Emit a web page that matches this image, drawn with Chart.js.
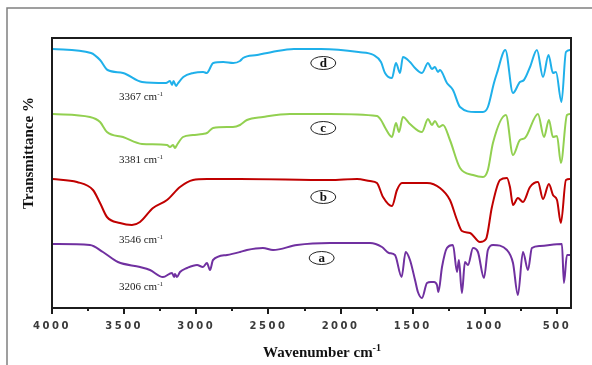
<!DOCTYPE html>
<html>
<head>
<meta charset="utf-8">
<script src="https://cdn.jsdelivr.net/npm/chart.js@4.4.1/dist/chart.umd.min.js"></script>
<style>
  html, body { margin: 0; padding: 0; background: #fff; }
  #wrap { width: 592px; height: 365px; }
</style>
</head>
<body>
<div id="wrap"><canvas id="ftir"></canvas></div>
<script>
// FTIR spectra, wavenumber (cm-1) vs transmittance (offset, arbitrary units)
// (d) top spectrum
const waveD = [3995,3730,3667,3615,3508,3376,3210,3182,3168,3158,3140,3130,3090,3021,2952,2928,2882,2813,2744,2697,2676,2579,2475,2323,2136,1876,1771,1720,1692,1644,1616,1588,1568,1519,1484,1436,1394,1367,1346,1325,1311,1263,1221,1172,1065,1013,979,937,916,858,805,757,729,687,639,597,559,528,507,469,438,407];
const transD = [259,255,248,238,235,226,225,227,223,227,222,224,231,235,236,235,245,246,245,247,250,253,256,259,259,256,253,246,235,230,245,235,251,246,240,235,245,239,241,236,238,225,218,201,196,196,201,225,235,258,215,226,228,241,258,231,253,235,236,206,256,258];

// (c)
const waveC = [3995,3737,3667,3619,3508,3376,3203,3182,3161,3148,3134,3092,3023,2954,2926,2884,2787,2746,2697,2649,2538,2351,2073,1748,1720,1690,1644,1616,1595,1568,1519,1436,1394,1367,1346,1318,1290,1242,1172,1082,1013,979,944,854,805,757,722,632,590,556,528,500,473,431,410];
const transC = [194,191,186,176,171,164,163,161,163,160,163,171,173,174,175,180,181,181,183,188,191,194,194,192,188,180,171,185,176,191,184,176,189,183,187,181,183,168,140,133,131,138,165,193,153,168,170,194,171,188,171,172,145,193,194];

// (b)
const waveB = [3995,3827,3716,3667,3619,3529,3446,3390,3300,3203,3113,3023,2926,2697,2073,1886,1796,1748,1706,1644,1609,1575,1401,1311,1242,1193,1159,1103,1034,992,951,895,847,826,805,771,736,687,632,597,556,528,500,473,438,410];
const transB = [129,126,118,105,91,85,83,86,100,108,121,128,129,129,128,129,127,125,111,102,118,125,125,120,108,88,77,75,66,69,101,128,130,121,103,110,106,121,126,109,124,113,108,85,128,129];

// (a) bottom spectrum
const waveA = [3995,3737,3647,3543,3390,3321,3231,3168,3154,3148,3134,3113,3064,2995,2954,2926,2905,2884,2787,2697,2649,2538,2468,2302,2073,1796,1713,1665,1623,1577,1549,1519,1484,1464,1436,1401,1374,1353,1332,1322,1297,1263,1221,1193,1180,1159,1138,1117,1082,1048,1006,979,944,847,805,771,736,701,674,618,466,452,431,410];
const transA = [64,63,56,46,41,38,31,35,31,34,31,36,40,43,41,45,38,48,53,56,58,60,58,63,65,65,61,55,53,31,56,48,28,16,10,25,26,26,23,16,41,60,63,36,48,15,46,43,60,56,30,58,63,58,45,13,56,38,60,62,64,25,53,53];

const tickLabels = [4000,3500,3000,2500,2000,1500,1000,500];
const minorTicks = [3750,3250,2750,2250,1750,1250,750];
const curveNames = ['d','c','b','a'];
const peakLabels = ['3367','3381','3546','3206'];

const toPoints = (xs, ys) => xs.map((x, i) => ({ x: x, y: ys[i] }));

// frame, tick marks, titles and the small labels
const decorPlugin = {
  id: 'decor',
  beforeDraw: (chart) => {
    chart.ctx.letterSpacing = '2.5px';
  },
  beforeDatasetsDraw: (chart) => {
    chart.ctx.letterSpacing = '0px';
  },
  afterDraw: (chart) => {
    const ctx = chart.ctx;
    const area = chart.chartArea;
    const xs = chart.scales.x;
    const ys = chart.scales.y;
    ctx.save();

    // outer grey frame
    ctx.strokeStyle = '#808080';
    ctx.lineWidth = 1.5;
    ctx.beginPath();
    ctx.moveTo(7, 365);
    ctx.lineTo(7, 8);
    ctx.lineTo(592, 8);
    ctx.stroke();

    // plot box
    ctx.strokeStyle = '#1c1c1c';
    ctx.lineWidth = 2;
    ctx.strokeRect(area.left, area.top, area.right - area.left, area.bottom - area.top);

    // tick marks below the axis
    tickLabels.forEach(v => {
      const px = Math.round(xs.getPixelForValue(v));
      ctx.beginPath();
      ctx.moveTo(px, area.bottom);
      ctx.lineTo(px, area.bottom + 6);
      ctx.stroke();
    });
    minorTicks.forEach(v => {
      const px = Math.round(xs.getPixelForValue(v));
      ctx.beginPath();
      ctx.moveTo(px, area.bottom);
      ctx.lineTo(px, area.bottom + 3);
      ctx.stroke();
    });

    // axis titles
    ctx.fillStyle = '#111';
    ctx.font = 'bold 15px "Liberation Serif"';
    ctx.textBaseline = 'middle';
    ctx.textAlign = 'left';
    const t1 = 'Wavenumber cm';
    const w1 = ctx.measureText(t1).width;
    ctx.font = 'bold 10px "Liberation Serif"';
    const w2 = ctx.measureText('-1').width;
    const tx = 322 - (w1 + w2) / 2;
    ctx.font = 'bold 15px "Liberation Serif"';
    ctx.fillText(t1, tx, 353);
    ctx.font = 'bold 10px "Liberation Serif"';
    ctx.fillText('-1', tx + w1, 348);

    ctx.save();
    ctx.translate(29, 153);
    ctx.rotate(-Math.PI / 2);
    ctx.textAlign = 'center';
    ctx.font = 'bold 15px "Liberation Serif"';
    ctx.fillText('Transmittance %', 0, 0);
    ctx.restore();

    // peak labels under each curve
    const peakY = [211, 148, 68, 21];
    peakLabels.forEach((txt, i) => {
      const px = xs.getPixelForValue(3536);
      const py = ys.getPixelForValue(peakY[i]);
      ctx.fillStyle = '#222';
      ctx.textAlign = 'left';
      ctx.font = '11px "Liberation Serif"';
      const s = txt + ' cm';
      ctx.fillText(s, px, py);
      const sw = ctx.measureText(s).width;
      ctx.font = '7px "Liberation Serif"';
      ctx.fillText('-1', px + sw, py - 3);
    });

    // circled curve letters
    const letterY = [245, 180, 111, 50];
    const letterX = [2120, 2120, 2120, 2131];
    curveNames.forEach((name, i) => {
      const cx = xs.getPixelForValue(letterX[i]);
      const cy = ys.getPixelForValue(letterY[i]);
      ctx.strokeStyle = '#222';
      ctx.lineWidth = 1;
      ctx.beginPath();
      ctx.ellipse(cx, cy, 12.5, 6.5, 0, 0, Math.PI * 2);
      ctx.stroke();
      ctx.fillStyle = '#111';
      ctx.textAlign = 'center';
      ctx.font = 'bold 13px "Liberation Serif"';
      ctx.fillText(name, cx, cy + 0.5);
    });

    ctx.restore();
  }
};

const lineSet = (label, xs, ys, color) => ({
  label: label,
  data: toPoints(xs, ys),
  showLine: true,
  borderColor: color,
  backgroundColor: color,
  borderWidth: 2,
  pointRadius: 0,
  cubicInterpolationMode: 'monotone',
  fill: false
});

const chart = new Chart(document.getElementById('ftir'), {
  type: 'scatter',
  data: {
    datasets: [
      lineSet('d', waveD, transD, '#1fb0ea'),
      lineSet('c', waveC, transC, '#92d050'),
      lineSet('b', waveB, transB, '#c00000'),
      lineSet('a', waveA, transA, '#7030a0')
    ]
  },
  options: {
    responsive: true,
    maintainAspectRatio: false,
    animation: false,
    layout: { padding: { left: 52, right: 21, top: 38, bottom: 21 } },
    plugins: {
      legend: { display: false },
      tooltip: { enabled: false }
    },
    scales: {
      x: {
        type: 'linear',
        reverse: true,
        min: 403,
        max: 4000,
        afterBuildTicks: (scale) => {
          scale.ticks = tickLabels.map(v => ({ value: v }));
        },
        grid: { display: false, drawTicks: false },
        border: { display: false },
        ticks: {
          padding: 12,
          maxRotation: 0,
          autoSkip: false,
          color: '#3a3a3a',
          font: { family: 'DejaVu Sans', weight: 'bold', size: 10 },
          callback: (value) => String(value)
        }
      },
      y: {
        display: false,
        min: 0,
        max: 270
      }
    }
  },
  plugins: [decorPlugin]
});
</script>
</body>
</html>
